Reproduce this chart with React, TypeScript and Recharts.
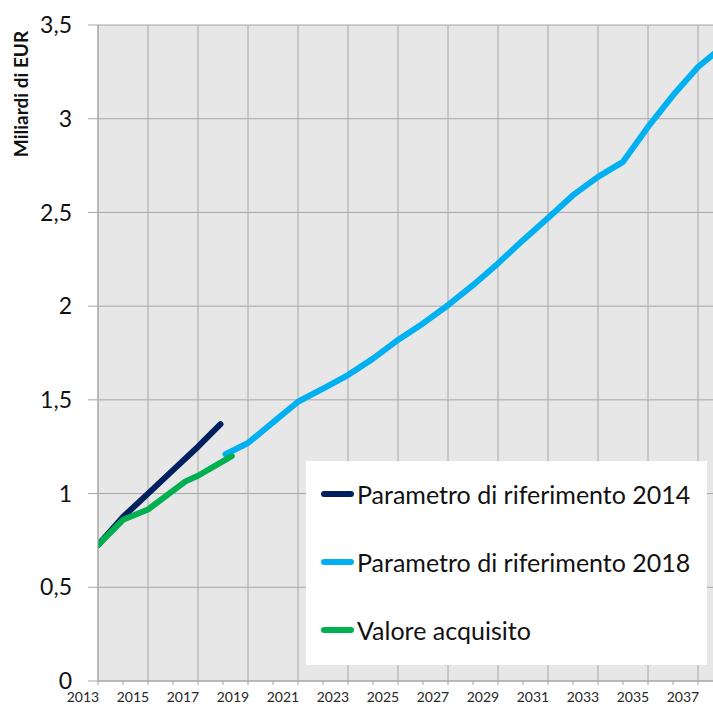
import { LineChart, Line, XAxis, YAxis, CartesianGrid, Legend, Label } from 'recharts';

// tick values
const axisYears = [2013, 2014, 2015, 2016, 2017, 2018, 2019, 2020, 2021, 2022, 2023, 2024, 2025, 2026, 2027, 2028, 2029, 2030, 2031, 2032, 2033, 2034, 2035, 2036, 2037, 2038];
const gridYears = [2013, 2015, 2017, 2019, 2021, 2023, 2025, 2027, 2029, 2031, 2033, 2035, 2037];
const valueTicks = [0, 0.5, 1, 1.5, 2, 2.5, 3, 3.5];

// Parametro di riferimento 2014
const ref2014Years = [2013, 2014, 2015, 2016, 2017, 2017.9];
const ref2014Values = [0.725, 0.875, 1.0, 1.125, 1.25, 1.37];

// Parametro di riferimento 2018
const ref2018Years = [2018.1, 2019, 2020, 2021, 2022, 2023, 2024, 2025, 2026, 2027, 2028, 2029, 2030, 2031, 2032, 2033, 2034, 2035, 2036, 2037, 2038];
const ref2018Values = [1.21, 1.27, 1.38, 1.49, 1.56, 1.632, 1.72, 1.82, 1.908, 2.005, 2.112, 2.228, 2.352, 2.47, 2.592, 2.69, 2.77, 2.956, 3.125, 3.276, 3.385];

// Valore acquisito
const acquiredYears = [2013, 2014, 2015, 2016.5, 2017, 2018.35];
const acquiredValues = [0.725, 0.86, 0.915, 1.065, 1.095, 1.2];

const toPoints = (years: number[], values: number[]) =>
    years.map((year, i) => ({ year, value: values[i] }));

const series = [
    { key: 'ref2014', name: 'Parametro di riferimento 2014', color: '#002060', data: toPoints(ref2014Years, ref2014Values) },
    { key: 'ref2018', name: 'Parametro di riferimento 2018', color: '#00b0f0', data: toPoints(ref2018Years, ref2018Values) },
    { key: 'acquired', name: 'Valore acquisito', color: '#00b050', data: toPoints(acquiredYears, acquiredValues) },
];

// draw order: light blue below, green on top
const drawOrder = ['ref2018', 'ref2014', 'acquired'];

const FONT = 'Lato, "Open Sans", sans-serif';
const GRID = '#a6a6a6';

const YearTick = (props: any) => {
    const { x, y, payload } = props;
    if (payload.value % 2 === 0) return null;
    return (
        <text x={x} y={y} dx={-15} dy={15} textAnchor="middle" fontSize={14} fill="#262626" fontFamily={FONT}>
            {payload.value}
        </text>
    );
};

// vertical grid only every other year, placed with the x axis scale
const oddYearGrid = (props: any) => {
    const xAxis = props?.xAxis;
    const scale = xAxis?.scale;
    const toPx = (v: number): number | undefined => {
        if (typeof scale === 'function') return scale(v);
        if (scale && typeof scale.map === 'function') return scale.map(v);
        const off = props?.offset;
        const dom = xAxis?.domain;
        if (off && Array.isArray(dom) && typeof dom[0] === 'number') {
            return off.left + ((v - dom[0]) / (dom[1] - dom[0])) * off.width;
        }
        return undefined;
    };
    return gridYears.map(toPx).filter((p): p is number => typeof p === 'number' && !Number.isNaN(p));
};

const renderLegend = () => (
    <div style={{ background: '#fff', width: 401, height: 204, boxSizing: 'border-box', paddingTop: 16, display: 'flex', flexDirection: 'column', gap: 34, fontFamily: FONT }}>
        {series.map((s) => (
            <div key={s.key} style={{ height: 34, display: 'flex', alignItems: 'center', paddingLeft: 15 }}>
                <div style={{ width: 33, height: 6, borderRadius: 3, background: s.color, flexShrink: 0 }} />
                <span style={{ marginLeft: 3, fontSize: 25, color: '#111', whiteSpace: 'nowrap' }}>{s.name}</span>
            </div>
        ))}
    </div>
);

export default function App() {
    return (
        <div style={{ position: 'absolute', left: 0, top: 0, width: 713, height: 704, overflow: 'hidden', background: '#fff', fontFamily: FONT }}>
            <LineChart width={750} height={704} margin={{ top: 25, right: 27, bottom: 0, left: 0 }}>
                <CartesianGrid stroke={GRID} fill="#e7e7e7" verticalCoordinatesGenerator={oddYearGrid} />
                <XAxis
                    type="number"
                    dataKey="year"
                    domain={[2013, 2038]}
                    ticks={axisYears}
                    interval={0}
                    allowDataOverflow
                    height={23}
                    tickSize={4}
                    stroke={GRID}
                    tick={<YearTick />}
                />
                <YAxis
                    type="number"
                    domain={[0, 3.5]}
                    ticks={valueTicks}
                    interval={0}
                    width={98}
                    tickSize={10}
                    tickMargin={16}
                    stroke={GRID}
                    tick={{ fill: '#111', fontSize: 23, fontFamily: FONT }}
                    tickFormatter={(v: number) => String(v).replace('.', ',')}
                >
                    <Label
                        content={() => (
                            <text x={20} y={94} textAnchor="middle" dominantBaseline="central" transform="rotate(-90, 20, 94)" fontSize={19} fontWeight="bold" fill="#111" fontFamily={FONT}>
                                Miliardi di EUR
                            </text>
                        )}
                    />
                </YAxis>
                <Legend
                    layout="vertical"
                    align="center"
                    verticalAlign="middle"
                    content={renderLegend}
                    wrapperStyle={{ left: 306, top: 461, width: 401, height: 204 }}
                />
                {drawOrder.map((k) => {
                    const s = series.find((x) => x.key === k)!;
                    return (
                        <Line
                            key={s.key}
                            data={s.data}
                            dataKey="value"
                            name={s.name}
                            type="linear"
                            stroke={s.color}
                            strokeWidth={6}
                            strokeLinecap="round"
                            strokeLinejoin="round"
                            dot={false}
                            activeDot={false}
                            isAnimationActive={false}
                        />
                    );
                })}
            </LineChart>
        </div>
    );
}
